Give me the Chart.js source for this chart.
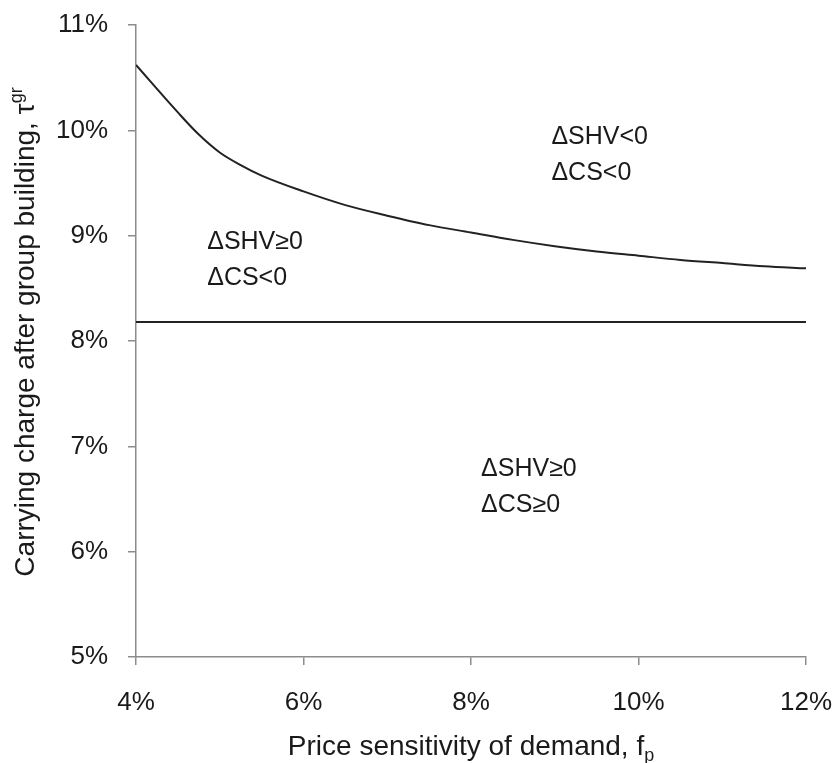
<!DOCTYPE html>
<html>
<head>
<meta charset="utf-8">
<script src="https://cdn.jsdelivr.net/npm/chart.js@4.4.1/dist/chart.umd.min.js"></script>
<style>
  html, body { margin: 0; padding: 0; background: #fff; }
  #wrap { width: 836px; height: 763px; }
</style>
</head>
<body>
<div id="wrap"><canvas id="chart" width="836" height="763"></canvas></div>
<script>
// price sensitivity of demand (%)
const sensitivity = [4, 4.5, 4.75, 5, 5.25, 5.5, 6, 6.5, 7, 7.5, 8, 8.5, 9, 9.5, 10, 10.5, 11, 11.5, 12];
// carrying charge boundary where delta SHV = 0 (%)
const shvBoundary = [10.62, 10.17, 9.96, 9.79, 9.67, 9.57, 9.42, 9.29, 9.19, 9.10, 9.03, 8.96, 8.90, 8.85, 8.81, 8.77, 8.74, 8.71, 8.69];
// boundary where delta CS = 0 (%)
const csBoundary = [8.18, 8.18];
const csX = [4, 12];

const regionLines = [
    ['ΔSHV<0', 'ΔCS<0'],
    ['ΔSHV≥0', 'ΔCS<0'],
    ['ΔSHV≥0', 'ΔCS≥0']
];
const regionX = [8.96, 4.85, 8.12];
const regionY = [9.94, 8.94, 6.78];

const FONT = '"Liberation Sans", Arial, sans-serif';
const TEXT = '#1a1a1a';
const AXIS = '#8c8c8c';

const labelsPlugin = {
    id: 'labels',
    afterDraw(chart) {
        const { ctx, scales: { x, y }, chartArea } = chart;
        ctx.save();
        ctx.fillStyle = TEXT;
        ctx.font = '25px ' + FONT;
        ctx.textBaseline = 'middle';
        ctx.textAlign = 'left';
        regionLines.forEach((lines, i) => {
            const px = x.getPixelForValue(regionX[i]);
            const py = y.getPixelForValue(regionY[i]);
            ctx.fillText(lines[0], px, py);
            ctx.fillText(lines[1], px, py + 36);
        });

        // x axis title with subscript
        ctx.font = '28px ' + FONT;
        ctx.textBaseline = 'alphabetic';
        const xt = 'Price sensitivity of demand, f';
        const w1 = ctx.measureText(xt).width;
        ctx.font = '18px ' + FONT;
        const w2 = ctx.measureText('p').width;
        const cx = (chartArea.left + chartArea.right) / 2;
        const startX = cx - (w1 + w2) / 2;
        ctx.font = '28px ' + FONT;
        ctx.fillText(xt, startX, 755);
        ctx.font = '18px ' + FONT;
        ctx.fillText('p', startX + w1, 761);

        // y axis title with superscript
        ctx.translate(34, 332);
        ctx.rotate(-Math.PI / 2);
        ctx.font = '28px ' + FONT;
        const yt = 'Carrying charge after group building, τ';
        const v1 = ctx.measureText(yt).width;
        ctx.font = '18px ' + FONT;
        const v2 = ctx.measureText('gr').width;
        const sx = -(v1 + v2) / 2;
        ctx.font = '28px ' + FONT;
        ctx.fillText(yt, sx, 0);
        ctx.font = '18px ' + FONT;
        ctx.fillText('gr', sx + v1, -12);
        ctx.restore();
    }
};

new Chart(document.getElementById('chart').getContext('2d'), {
    type: 'line',
    data: {
        datasets: [{
            data: sensitivity.map((v, i) => ({ x: v, y: shvBoundary[i] })),
            borderColor: '#222',
            borderWidth: 2,
            pointRadius: 0,
            cubicInterpolationMode: 'monotone'
        }, {
            data: csX.map((v, i) => ({ x: v, y: csBoundary[i] })),
            borderColor: '#222',
            borderWidth: 2,
            pointRadius: 0
        }]
    },
    options: {
        responsive: false,
        animation: false,
        layout: { padding: { top: 25, right: 30, left: 0, bottom: 0 } },
        plugins: { legend: { display: false }, tooltip: { enabled: false } },
        scales: {
            x: {
                type: 'linear',
                min: 4,
                max: 12,
                afterFit: (s) => { s.height = 106; s.paddingLeft = 0; s.paddingRight = 0; },
                border: { color: AXIS, width: 1.5 },
                grid: { drawOnChartArea: false, color: AXIS, lineWidth: 1.5, tickLength: 8 },
                ticks: {
                    stepSize: 2,
                    padding: 22,
                    color: TEXT,
                    font: { family: FONT, size: 26 },
                    callback: (v) => v + '%'
                }
            },
            y: {
                min: 5,
                max: 11,
                afterFit: (s) => { s.width = 136; s.paddingTop = 0; s.paddingBottom = 0; },
                border: { color: AXIS, width: 1.5 },
                grid: { drawOnChartArea: false, color: AXIS, lineWidth: 1.5, tickLength: 8 },
                ticks: {
                    stepSize: 1,
                    padding: 20,
                    color: TEXT,
                    font: { family: FONT, size: 26 },
                    callback: (v) => v + '%'
                }
            }
        }
    },
    plugins: [labelsPlugin]
});
</script>
</body>
</html>
